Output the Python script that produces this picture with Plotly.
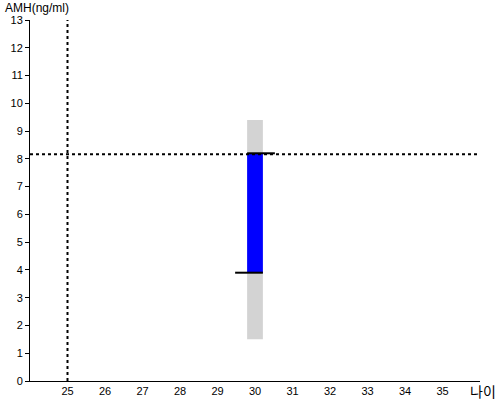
import plotly.graph_objects as go

# patient / reference values
age = 30
range_low, range_high = 1.5, 9.4      # gray reference band
amh_low, amh_high = 3.9, 8.2          # blue measured band
ref_age = 25
ref_amh = 8.17
x_ticks = list(range(25, 36))
y_ticks = list(range(0, 14))
bar_width = 0.42

fig = go.Figure()

fig.add_trace(go.Bar(x=[age], y=[range_high - range_low], base=[range_low],
                     width=bar_width, marker=dict(color='#d3d3d3', line=dict(width=0)),
                     hoverinfo='skip'))
fig.add_trace(go.Bar(x=[age], y=[amh_high - amh_low], base=[amh_low],
                     width=bar_width, marker=dict(color='#0000ff', line=dict(width=0)),
                     hoverinfo='skip'))

# short black caps at the band ends
fig.add_trace(go.Scatter(x=[age - 0.21, age + 0.53], y=[amh_high, amh_high], mode='lines',
                         line=dict(color='black', width=2), hoverinfo='skip'))
fig.add_trace(go.Scatter(x=[age - 0.53, age + 0.21], y=[amh_low, amh_low], mode='lines',
                         line=dict(color='black', width=2), hoverinfo='skip'))

# dotted reference lines
fig.add_trace(go.Scatter(x=[ref_age, ref_age], y=[0, 13], mode='lines',
                         line=dict(color='black', width=2, dash='dot'), hoverinfo='skip'))
fig.add_trace(go.Scatter(x=[24, 36], y=[ref_amh, ref_amh], mode='lines',
                         line=dict(color='black', width=2, dash='dot'), hoverinfo='skip'))

fig.update_layout(
    width=500, height=400,
    margin=dict(l=30, r=20, t=20, b=19, autoexpand=False),
    plot_bgcolor='white', paper_bgcolor='white',
    showlegend=False, barmode='overlay',
    font=dict(family='Liberation Sans, Arial, sans-serif', size=11, color='black'),
    annotations=[
        dict(text='AMH(ng/ml)', x=0, y=1, xref='paper', yref='paper',
             xanchor='left', yanchor='bottom', xshift=-27, yshift=3,
             showarrow=False, font=dict(size=12)),
        dict(text='나이', x=1, y=0, xref='paper', yref='paper',
             xanchor='right', yanchor='top', xshift=18, yshift=2,
             showarrow=False, font=dict(size=14, family='Noto Sans CJK KR')),
    ],
)
fig.update_xaxes(range=[24, 36], tickvals=x_ticks, showgrid=False, zeroline=False,
                 showline=True, linecolor='black', linewidth=1, ticks='', ticklen=0,
                 automargin=False)
fig.update_yaxes(range=[0, 13], tickvals=y_ticks, showgrid=False, zeroline=False,
                 showline=True, linecolor='black', linewidth=1, ticks='outside',
                 ticklen=4, tickcolor='black', automargin=False)

fig.write_html("out.html", config={'displayModeBar': False},
               post_script="document.body.style.margin='0';")
